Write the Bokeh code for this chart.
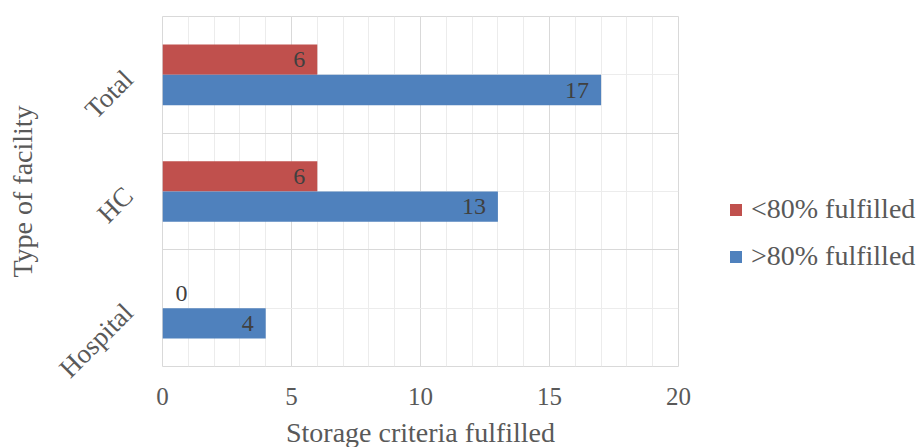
import math
from bokeh.plotting import figure
from bokeh.layouts import row
from bokeh.models import (ColumnDataSource, Range1d, FixedTicker, SingleIntervalTicker,
                          Grid, Legend, LegendItem)
from bokeh.core.properties import value
from bokeh.embed import file_html
from bokeh.resources import INLINE

# ---- data ----
categories = ["Hospital", "HC", "Total"]
below80 = [0, 6, 6]
above80 = [4, 13, 17]
series_names = ["<80% fulfilled", ">80% fulfilled"]
series_colors = ["#C0504D", "#4F81BD"]
x_min, x_max, x_step = 0, 20, 5

# ---- derived positions ----
n = len(categories)
centers = [i + 0.5 for i in range(n)]
bounds = list(range(n + 1))
bar_h = 0.26
y_below = [c + bar_h / 2 for c in centers]
y_above = [c - bar_h / 2 for c in centers]

FONT = "Liberation Serif"
AX_COLOR = "#595959"
LBL_COLOR = "#404040"

p = figure(frame_width=516, frame_height=350, x_range=Range1d(x_min, x_max), y_range=Range1d(0, n),
           output_backend="svg", toolbar_location=None,
           min_border_left=162, min_border_top=16, min_border_right=20, min_border_bottom=81)
p.outline_line_color = "#D9D9D9"
p.background_fill_color = "white"

# x axis
xt = SingleIntervalTicker(interval=x_step, num_minor_ticks=5)
p.xaxis.ticker = xt
p.xgrid.ticker = xt
p.xgrid.grid_line_color = "#D9D9D9"
p.xgrid.minor_grid_line_color = "#ECECEC"
p.xaxis.axis_label = "Storage criteria fulfilled"
for ax in p.xaxis:
    ax.axis_line_color = None
    ax.major_tick_line_color = None
    ax.minor_tick_line_color = None
    ax.major_tick_out = 0
    ax.minor_tick_out = 0
    ax.major_label_text_font = FONT
    ax.major_label_text_font_size = "25px"
    ax.major_label_text_color = AX_COLOR
    ax.major_label_standoff = 21
    ax.axis_label_text_font = FONT
    ax.axis_label_text_font_size = "28px"
    ax.axis_label_text_font_style = "normal"
    ax.axis_label_text_color = AX_COLOR
    ax.axis_label_text_line_height = 0.6
    ax.axis_label_standoff = 9

# y axis
p.yaxis.ticker = FixedTicker(ticks=centers)
p.yaxis.major_label_overrides = {c: name for c, name in zip(centers, categories)}
p.yaxis.axis_label = "Type of facility"
for ax in p.yaxis:
    ax.axis_line_color = None
    ax.major_tick_line_color = None
    ax.minor_tick_line_color = None
    ax.major_tick_out = 0
    ax.minor_tick_out = 0
    ax.major_label_orientation = math.pi / 4
    ax.major_label_text_font = FONT
    ax.major_label_text_font_size = "27px"
    ax.major_label_text_color = AX_COLOR
    ax.major_label_standoff = 34
    ax.axis_label_text_font = FONT
    ax.axis_label_text_font_size = "28px"
    ax.axis_label_text_font_style = "normal"
    ax.axis_label_text_color = AX_COLOR
    ax.axis_label_standoff = 2

p.ygrid.ticker = FixedTicker(ticks=bounds)
p.ygrid.grid_line_color = "#D9D9D9"
center_grid = Grid(dimension=1, ticker=FixedTicker(ticks=centers), grid_line_color="#ECECEC")
p.add_layout(center_grid)

# bars
src_b = ColumnDataSource(dict(y=y_below, v=below80))
src_a = ColumnDataSource(dict(y=y_above, v=above80))
p.hbar(y="y", right="v", left=0, height=bar_h, source=src_b,
       fill_color=series_colors[0], line_color=None)
p.hbar(y="y", right="v", left=0, height=bar_h, source=src_a,
       fill_color=series_colors[1], line_color=None)

# data labels
def add_labels(ys, vals):
    nz = [(y, v) for y, v in zip(ys, vals) if v != 0]
    z = [(y, v) for y, v in zip(ys, vals) if v == 0]
    if nz:
        s = ColumnDataSource(dict(y=[a for a, _ in nz], v=[b for _, b in nz],
                                  t=[str(b) for _, b in nz]))
        p.text(x="v", y="y", text="t", source=s, text_align="right", text_baseline="middle",
               x_offset=-12, text_font=value(FONT), text_font_size="24px", text_color=LBL_COLOR)
    if z:
        s = ColumnDataSource(dict(y=[a for a, _ in z], v=[b for _, b in z],
                                  t=[str(b) for _, b in z]))
        p.text(x="v", y="y", text="t", source=s, text_align="left", text_baseline="middle",
               x_offset=13, text_font=value(FONT), text_font_size="24px", text_color=LBL_COLOR)

add_labels(y_below, below80)
add_labels(y_above, above80)

# legend panel (separate figure to the right of the chart; its ranges show no bars,
# the renderers only serve as legend proxies)
lg = figure(width=224, height=447, x_range=Range1d(-2 * x_max, -x_max), y_range=Range1d(-2 * n, -n),
            output_backend="svg", toolbar_location=None, min_border=0)
lg.axis.visible = False
lg.grid.visible = False
lg.outline_line_color = None
lb = lg.hbar(y="y", right="v", left=0, height=bar_h, source=src_b,
             fill_color=series_colors[0], line_color=None)
la = lg.hbar(y="y", right="v", left=0, height=bar_h, source=src_a,
             fill_color=series_colors[1], line_color=None)
legend = Legend(items=[LegendItem(label=series_names[0], renderers=[lb]),
                       LegendItem(label=series_names[1], renderers=[la])],
                location=(30, 91), orientation="vertical")
legend.border_line_color = None
legend.background_fill_alpha = 0
legend.margin = 0
legend.padding = 0
legend.glyph_width = 15
legend.glyph_height = 15
legend.label_standoff = 8
legend.label_height = 32
legend.spacing = 15
legend.label_text_font = FONT
legend.label_text_font_size = "28px"
legend.label_text_color = AX_COLOR
lg.add_layout(legend, "center")

layout = row(p, lg, spacing=0)
open("out.html", "w").write(file_html(layout, INLINE))
